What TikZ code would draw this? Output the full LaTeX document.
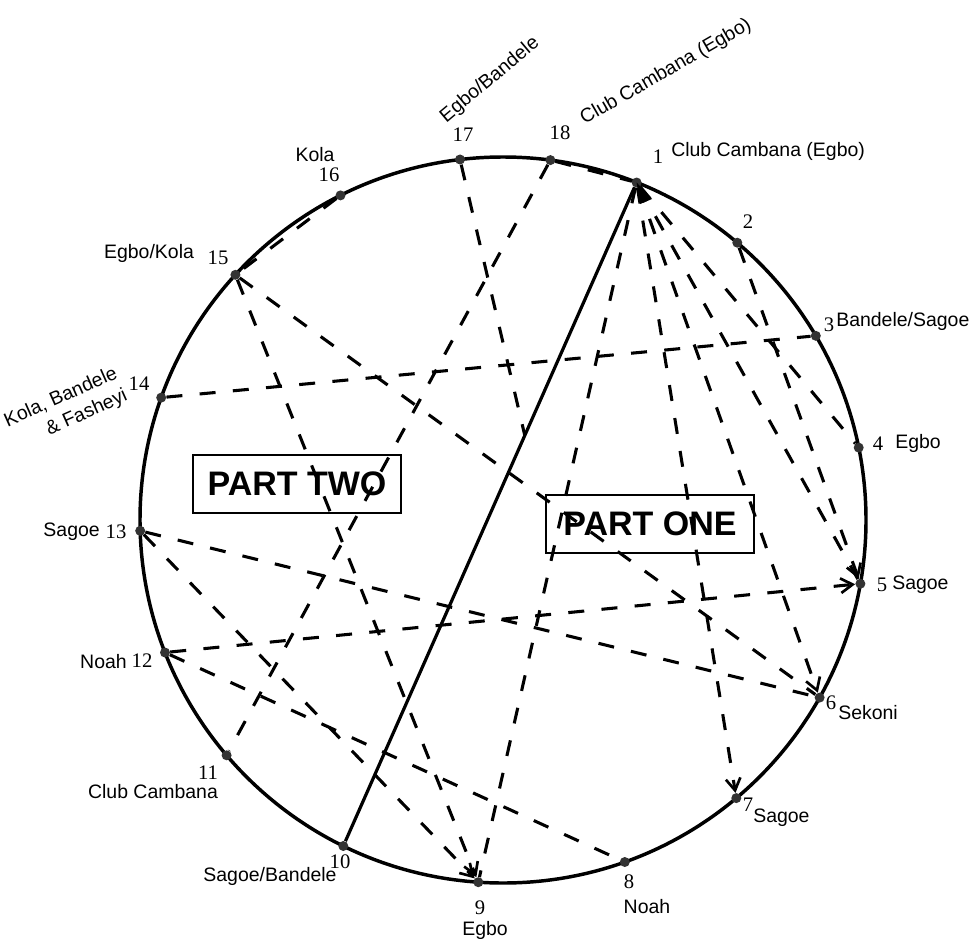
\documentclass[tikz,border=0pt]{standalone}
\usepackage{fontspec}
\setmainfont{Liberation Serif}
\newfontfamily\labfont{Liberation Sans}
\usetikzlibrary{arrows.meta}
\begin{document}
\begin{tikzpicture}[x=0.75pt,y=-0.75pt,
  pt/.style={circle,fill=black!80,inner sep=0pt,minimum size=7.5pt},
  chord/.style={line width=2.3pt,dash pattern=on 12pt off 13pt},
  solidchord/.style={line width=2.4pt},
  num/.style={font=\fontsize{15.5}{16}\selectfont,inner sep=0pt},
  lab/.style={font=\labfont\fontsize{14.6}{18.4}\selectfont,inner sep=0pt},
  part/.style={draw,line width=1.1pt,font=\labfont\bfseries\fontsize{25.5}{28}\selectfont,minimum width=156pt,minimum height=43.5pt,inner sep=0pt},
  tip/.style={-{Straight Barb[length=9pt,width=11pt,line width=2pt]}}
]
\useasboundingbox (0,0) rectangle (977,938);
% circle
\draw[line width=2.6pt] (503,520) circle[radius=363];
% points
\node[pt] (p1) at (636.6,182.5) {};
\node[pt] (p2) at (737.3,242.7) {};
\node[pt] (p3) at (815.8,335.8) {};
\node[pt] (p4) at (858.7,447.6) {};
\node[pt] (p5) at (860.4,583.7) {};
\node[pt] (p6) at (819.6,697.6) {};
\node[pt] (p7) at (736.3,798.1) {};
\node[pt] (p8) at (624.8,862.0) {};
\node[pt] (p9) at (478.3,882.2) {};
\node[pt] (p10) at (343.3,846.0) {};
\node[pt] (p11) at (226.6,755.3) {};
\node[pt] (p12) at (165.0,652.5) {};
\node[pt] (p13) at (140.2,530.8) {};
\node[pt] (p14) at (161.2,397.6) {};
\node[pt] (p15) at (235.4,274.8) {};
\node[pt] (p16) at (340.5,195.4) {};
\node[pt] (p17) at (460.0,159.5) {};
\node[pt] (p18) at (550.4,160.1) {};
\coordinate (x17) at (524.8,435.5);
% chords
\draw[solidchord] (p1) -- (p10);
\draw[chord] (p1) -- (p9);
\draw[chord,tip] (p1) -- (p7);
\draw[chord,tip] (p1) -- (p6);
\draw[chord] (p1) -- (p5);
\draw[chord] (p1) -- (p4);
\draw[chord,tip] (p2) -- (p5);
\draw[chord] (p14) -- (p3);
\draw[chord] (p15) -- (p6);
\draw[chord] (p13) -- (p6);
\draw[chord,tip] (p13) -- (p9);
\draw[chord,tip] (p15) -- (p9);
\draw[chord] (p16) -- (p15);
\draw[chord] (p18) -- (p1);
\draw[chord] (p17) -- (x17);
\draw[chord] (p18) -- (p11);
\draw[chord,tip] (p12) -- (p5);
\draw[chord] (p12) -- (p8);
% wedge at 1
\fill (636.6,182.5) -- (640,204) -- (652,199) -- cycle;
% labels
\node[num] (n17) at (463,135) {17};
\node[num] (n18) at (560,133) {18};
\node[num] (n1) at (658,157) {1};
\node[lab,anchor=west] (l1) at (671,151) {Club Cambana (Egbo)};
\node[lab,rotate=40] (l17) at (490,80) {Egbo/Bandele};
\node[lab,rotate=30] (l18) at (666,72) {Club Cambana (Egbo)};
\node[num] (n2) at (748,222) {2};
\node[num] (n3) at (829,325) {3};
\node[lab,anchor=west] (l3) at (836,321) {Bandele/Sagoe};
\node[num] (n4) at (878,444) {4};
\node[lab,anchor=west] (l4) at (895,443) {Egbo};
\node[num] (n5) at (882,585) {5};
\node[lab,anchor=west] (l5) at (892,585) {Sagoe};
\node[num] (n6) at (831,703) {6};
\node[lab,anchor=west] (l6) at (838,713) {Sekoni};
\node[num] (n7) at (748,805) {7};
\node[lab,anchor=west] (l7) at (753,818) {Sagoe};
\node[num] (n8) at (629,882) {8};
\node[lab] (l8) at (647,907) {Noah};
\node[num] (n9) at (480,908) {9};
\node[lab] (l9) at (485,930) {Egbo};
\node[num] (n10) at (340,862) {10};
\node[lab] (l10) at (270,876) {Sagoe/Bandele};
\node[num] (n11) at (208,773) {11};
\node[lab] (l11) at (153,792) {Club Cambana};
\node[num] (n12) at (142,661) {12};
\node[lab,anchor=east] (l12) at (127,662) {Noah};
\node[num] (n13) at (116,532) {13};
\node[lab,anchor=east] (l13) at (100,532) {Sagoe};
\node[num] (n14) at (139,384) {14};
\node[lab,rotate=24,align=right] (l14) at (66,409) {Kola, Bandele\\ \& Fasheyi};
\node[num] (n15) at (218,258) {15};
\node[lab] (l15) at (149,253) {Egbo/Kola};
\node[num] (n16) at (329,175) {16};
\node[lab] (l16) at (315,155) {Kola};
% part boxes
\node[part] (partTwo) at (297,484) {PART TWO};
\node[part] (partOne) at (650,524) {PART ONE};
\end{tikzpicture}
\end{document}
